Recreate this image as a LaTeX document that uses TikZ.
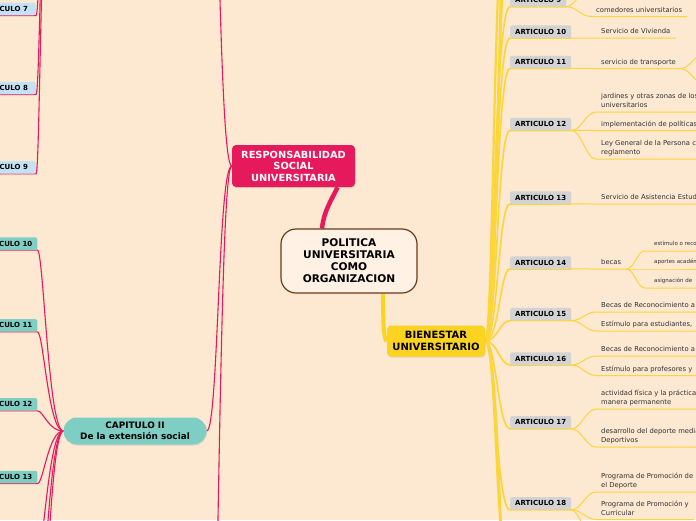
\documentclass[tikz,border=0pt]{standalone}
\usepackage{fontspec}
\setmainfont{DejaVu Sans}
\usepackage{xcolor}
\usepackage{tikz}
\usetikzlibrary{shadows}

\definecolor{bgpeach}{RGB}{253,232,209}
\definecolor{rsured}{RGB}{230,25,92}
\definecolor{bienyel}{RGB}{251,211,32}
\definecolor{lnyel}{RGB}{251,213,58}
\definecolor{capteal}{RGB}{126,206,196}
\definecolor{artgrey}{RGB}{211,211,211}
\definecolor{artblue}{RGB}{197,225,244}
\definecolor{cenbrown}{RGB}{105,58,22}
\definecolor{cenfill}{RGB}{255,241,227}
\definecolor{txtgrey}{RGB}{50,50,50}

\pgfdeclarelayer{paper}
\pgfdeclarelayer{links}
\pgfsetlayers{paper,links,main}

\begin{document}
\begin{tikzpicture}[x=1pt, y=-1pt,
  cen/.style={draw=cenbrown, line width=1.2pt, fill=cenfill, rounded corners=15pt,
              minimum width=136pt, minimum height=64pt, align=center,
              font=\fontsize{10.6}{12}\selectfont\bfseries},
  topic/.style={rounded corners=4pt, align=center,
                drop shadow={shadow xshift=.6pt, shadow yshift=-1pt, opacity=.22}},
  art/.style={rounded corners=2pt, inner xsep=5pt, inner ysep=0pt, minimum height=12.5pt,
              font=\fontsize{7}{8}\selectfont\bfseries},
  leaf/.style={anchor=south west, inner xsep=5pt, inner ysep=2.3pt, text depth=2pt,
               align=left, text=txtgrey, font=\fontsize{6.8}{8.6}\selectfont},
  smallleaf/.style={leaf, inner xsep=9pt, inner ysep=3pt, font=\fontsize{5.5}{6.5}\selectfont},
  rl/.style={draw=rsured, line width=1.1pt},
  yl/.style={draw=lnyel, line width=1.6pt},
  ylt/.style={draw=lnyel, line width=1pt}
]
  \useasboundingbox (0,0) rectangle (696,520);
  \begin{pgfonlayer}{paper}
    \fill[bgpeach] (0,0) rectangle (696,520);
  \end{pgfonlayer}

  \node[cen] (pol) at (349,261) {POLITICA\\UNIVERSITARIA\\COMO\\ORGANIZACION};
  \node[topic, fill=rsured, text=white, minimum width=123pt, minimum height=42pt,
        font=\fontsize{9.8}{11.5}\selectfont\bfseries] (rsu) at (293.5,166)
        {RESPONSABILIDAD\\SOCIAL\\UNIVERSITARIA};
  \node[topic, fill=bienyel, minimum width=98pt, minimum height=31pt,
        font=\fontsize{10}{12}\selectfont\bfseries] (bien) at (436,341)
        {BIENESTAR\\UNIVERSITARIO};
  \node[topic, fill=capteal, rounded corners=13.5pt, minimum width=143pt, minimum height=27pt,
        font=\fontsize{8.9}{11}\selectfont\bfseries] (cap2) at (135,431)
        {CAPITULO II\\De la extensión social};

  \node[art, fill=artblue, minimum width=62pt, anchor=east] (l7) at (36,9) {ARTICULO 7};
  \node[art, fill=artblue, minimum width=62pt, anchor=east] (l8) at (36,88) {ARTICULO 8};
  \node[art, fill=artblue, minimum width=62pt, anchor=east] (l9) at (36,167.4) {ARTICULO 9};
  \node[art, fill=capteal, anchor=east] (l10) at (37.5,243.7) {ARTICULO 10};
  \node[art, fill=capteal, anchor=east] (l11) at (37.5,325.4) {ARTICULO 11};
  \node[art, fill=capteal, anchor=east] (l12) at (37.5,404.4) {ARTICULO 12};
  \node[art, fill=capteal, anchor=east] (l13) at (37.5,477) {ARTICULO 13};

  \foreach \n/\y in {9/0.3, 10/31.7, 11/62, 12/124, 13/197.5, 14/262.5,
                     15/314.2, 16/358.5, 17/422.3, 18/503.3}
    \node[art, fill=artgrey, anchor=west] (r\n) at (510,\y) {ARTICULO \n};

  \node[leaf] (c9) at (591,16.5) {comedores universitarios};
  \node[leaf] (c10) at (596,38) {Servicio de Vivienda};
  \node[leaf] (c11) at (596,68.5) {servicio de transporte};
  \node[leaf] (c12a) at (596,112) {jardines y otras zonas de los\\universitarios};
  \node[leaf] (c12b) at (596,130.5) {implementación de políticas};
  \node[leaf] (c12c) at (596,159) {Ley General de la Persona con Discapacidad y su\\reglamento};
  \node[leaf] (c13) at (596,204) {Servicio de Asistencia Estudiantil};
  \node[leaf] (c14) at (596,269) {becas};
  \node[smallleaf] (c14a) at (645,251) {estímulo o reconocimiento};
  \node[smallleaf] (c14b) at (645,269) {aportes académicos};
  \node[smallleaf] (c14c) at (645,288) {asignación de};
  \node[leaf] (c15a) at (596,312) {Becas de Reconocimiento a};
  \node[leaf] (c15b) at (596,331) {Estímulo para estudiantes,};
  \node[leaf] (c16a) at (596,356) {Becas de Reconocimiento a};
  \node[leaf] (c16b) at (596,375.5) {Estímulo para profesores y};
  \node[leaf] (c17a) at (596,409) {actividad física y la práctica\\manera permanente};
  \node[leaf] (c17b) at (596,447) {desarrollo del deporte mediante\\Deportivos};
  \node[leaf] (c18a) at (596,492) {Programa de Promoción de\\el Deporte};
  \node[leaf] (c18b) at (596,519.5) {Programa de Promoción y\\Curricular};

  \coordinate (capIw) at (62,-260);
  \coordinate (capIe) at (207,-260);
  \coordinate (capIIIe) at (207,800);
  \coordinate (l14) at (37.5,556);
  \coordinate (l15) at (37.5,636);
  \coordinate (l16) at (37.5,716);
  \coordinate (r8) at (510,-60);
  \coordinate (r7) at (510,-130);
  \coordinate (r6) at (510,-200);
  \coordinate (r19) at (510,570);
  \coordinate (r20) at (510,640);
  \coordinate (c9u) at (592,-14);
  \coordinate (c11u) at (708,50);
  \coordinate (c11d) at (708,88);
  \coordinate (c18c) at (598,548);

  \begin{pgfonlayer}{links}
    \draw[line width=4.5pt, draw=rsured] ([xshift=-27pt]pol.north)
      .. controls +(2,-18) and +(-6,13) .. ([xshift=44pt]rsu.south);
    \draw[line width=4pt, draw=bienyel] ([xshift=34pt]pol.south)
      .. controls +(0,28) and +(-3,0) .. (bien.west);

    \foreach \t in {capIe, cap2.east, capIIIe}
      \draw[rl] (rsu.west) .. controls +(-14,0) and +(12,0) .. (\t);
    \foreach \n in {7,8,9}
      \draw[rl] (l\n.south west) -- (l\n.south east) .. controls +(5,0) and +(-22,0) .. (capIw);
    \foreach \n in {10,...,13}
      \draw[rl] (l\n.south west) -- (l\n.south east) .. controls +(6,0) and +(-15,0) .. (cap2.west);
    \foreach \n in {l14,l15,l16}
      \draw[rl] (\n) .. controls +(6,0) and +(-15,0) .. (cap2.west);

    \foreach \n/\d/\e in {9/9/16, 10/10/15, 11/11/14, 12/12/13, 13/13/12, 14/14/10,
                          15/12/10, 16/12/10, 17/11/12, 18/10/14}
      \draw[yl] (bien.east) .. controls +(\d,0) and +(-\e,0) .. (r\n.south west) -- (r\n.south east);
    \foreach \n/\d/\e in {r8/12/14, r7/9/17, r6/15/11, r19/12/15, r20/15/10}
      \draw[yl, line width=2.2pt] (bien.east) .. controls +(\d,0) and +(-\e,0) .. (\n);

    \foreach \p/\c in {9/c9, 10/c10, 11/c11, 12/c12a, 12/c12b, 12/c12c, 13/c13, 14/c14,
                       15/c15a, 15/c15b, 16/c16a, 16/c16b, 17/c17a, 17/c17b, 18/c18a, 18/c18b}
      \draw[ylt] (r\p.south east) .. controls +(10,0) and +(-10,0) .. (\c.south west) -- (\c.south east);
    \draw[ylt] (r9.south east) .. controls +(8,0) and +(-8,0) .. (c9u);
    \draw[ylt] (r18.south east) .. controls +(8,0) and +(-8,0) .. (c18c);
    \foreach \c in {c11u, c11d}
      \draw[ylt] (c11.south east) .. controls +(9,0) and +(-9,0) .. (\c);
    \foreach \c in {c14a, c14b, c14c}
      \draw[ylt] (c14.south east) .. controls +(8,0) and +(-8,0) .. (\c.south west) -- (\c.south east);
  \end{pgfonlayer}
\end{tikzpicture}
\end{document}
